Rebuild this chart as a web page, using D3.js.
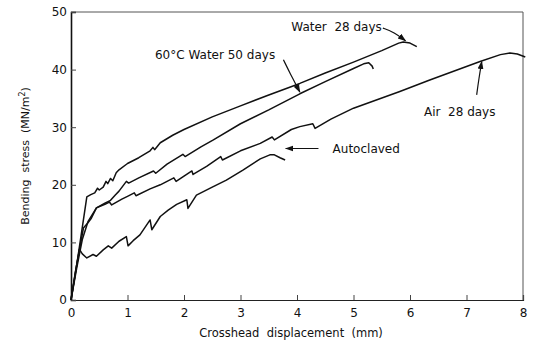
<!DOCTYPE html>
<html lang="en">
<head>
<meta charset="UTF-8">
<title>Bending stress vs crosshead displacement</title>
<script src="https://d3js.org/d3.v7.min.js"></script>
<style>
  body { margin: 0; background: #fff; }
  text { font-family: "DejaVu Sans", sans-serif; fill: #111; white-space: pre; }
</style>
</head>
<body>
<div id="chart"></div>
<script>
  // data: [displacement mm, stress MN/m2]
  const water28 = [[0,0],[0.1,6],[0.28,17.9],[0.35,18.3],[0.42,18.6],[0.47,19.4],[0.5,19.1],[0.57,19.6],[0.62,20.6],[0.65,20.2],[0.7,21.1],[0.74,20.7],[0.8,22.1],[0.85,22.6],[1.0,23.7],[1.2,24.7],[1.4,25.9],[1.45,26.5],[1.48,26.1],[1.58,27.3],[1.8,28.6],[2.0,29.6],[2.5,31.8],[3.0,33.7],[3.5,35.6],[4.05,37.6],[4.5,39.4],[5.0,41.3],[5.5,43.3],[5.8,44.6],[5.88,44.8],[6.0,44.6],[6.12,44.0]];
  const water60 = [[0,0],[0.1,6],[0.22,12.5],[0.3,13.4],[0.36,14.2],[0.45,16.0],[0.6,16.8],[0.7,17.3],[0.78,18.2],[0.85,18.9],[0.98,20.6],[1.02,20.3],[1.2,21.2],[1.46,22.4],[1.5,22.0],[1.7,23.6],[1.98,25.3],[2.02,24.9],[2.3,26.6],[2.52,27.8],[3.0,30.6],[3.5,33.0],[4.05,35.8],[4.5,37.9],[5.0,40.2],[5.18,41.0],[5.27,41.2],[5.33,40.6],[5.35,40.1]];
  const air28 = [[0,0],[0.1,5.5],[0.2,10.5],[0.3,13.6],[0.45,16.0],[0.6,16.6],[0.68,17.0],[0.72,16.5],[0.9,17.5],[1.0,18.0],[1.12,18.6],[1.15,18.1],[1.4,19.3],[1.58,20.0],[1.82,21.2],[1.86,20.6],[2.14,22.4],[2.16,21.8],[2.4,23.2],[2.65,24.9],[2.68,24.3],[3.0,25.9],[3.35,27.2],[3.56,28.3],[3.6,27.8],[3.9,29.6],[4.05,30.1],[4.28,30.6],[4.32,29.8],[4.6,31.4],[5.0,33.3],[5.82,36.2],[6.35,38.2],[7.24,41.4],[7.6,42.6],[7.77,42.9],[7.9,42.7],[8.04,42.2]];
  const autoclaved = [[0,0],[0.08,5],[0.15,8.8],[0.2,8.0],[0.28,7.3],[0.39,7.9],[0.45,7.6],[0.57,8.7],[0.66,9.4],[0.72,9.0],[0.85,10.2],[0.98,11.0],[1.01,9.4],[1.1,10.3],[1.22,11.3],[1.4,13.9],[1.43,12.2],[1.58,14.5],[1.72,15.6],[1.87,16.6],[2.05,17.4],[2.07,15.9],[2.22,18.2],[2.5,19.6],[2.75,20.8],[3.05,22.6],[3.35,24.5],[3.52,25.2],[3.6,25.2],[3.7,24.7],[3.79,24.3]];

  const xTicks = [0, 1, 2, 3, 4, 5, 6, 7, 8];
  const yTicks = [0, 10, 20, 30, 40, 50];

  // label text, anchor point and arrow (tail -> head) in data units
  const labels = [
    { text: "Water  28 days",      x: 4.70, y: 47.5, anchor: "middle", arrow: [[5.52, 47.2], [5.72, 46.5], [5.92, 45.0]] },
    { text: "60°C Water 50 days",   x: 2.55, y: 42.5, anchor: "middle", arrow: [[3.76, 41.7], [3.88, 39.3], [4.05, 36.1]] },
    { text: "Air  28 days",         x: 6.88, y: 32.7, anchor: "middle", arrow: [[7.18, 35.6], [7.22, 38.5], [7.27, 41.4]] },
    { text: "Autoclaved",           x: 4.63, y: 26.3, anchor: "start",  arrow: [[4.38, 26.3], [4.0, 26.3], [3.8, 26.3]] }
  ];

  const width = 533, height = 341;
  const margin = { top: 12, right: 10, bottom: 41, left: 71 };

  const svg = d3.select("#chart").append("svg")
    .attr("width", width)
    .attr("height", height);

  const x = d3.scaleLinear().domain([0, 8]).range([margin.left, width - margin.right]);
  const y = d3.scaleLinear().domain([0, 50]).range([height - margin.bottom, margin.top]);

  svg.append("defs").append("marker")
    .attr("id", "head")
    .attr("viewBox", "0 0 10 10")
    .attr("refX", 9).attr("refY", 5)
    .attr("markerWidth", 7).attr("markerHeight", 7)
    .attr("orient", "auto")
    .append("path")
    .attr("d", "M0,1.5 L10,5 L0,8.5 Z")
    .attr("fill", "#111");

  // frame
  svg.append("line")
    .attr("x1", x(0)).attr("x2", x(8)).attr("y1", y(50)).attr("y2", y(50))
    .attr("stroke", "#555").attr("stroke-width", 1);
  svg.append("line")
    .attr("x1", x(8)).attr("x2", x(8)).attr("y1", y(50)).attr("y2", y(0))
    .attr("stroke", "#555").attr("stroke-width", 1);

  const xAxis = svg.append("g")
    .attr("transform", `translate(0,${y(0)})`)
    .call(d3.axisBottom(x).tickValues(xTicks).tickSize(-5).tickPadding(8).tickFormat(d3.format("d")));
  xAxis.select(".domain").attr("stroke", "#222").attr("stroke-width", 1.2);
  xAxis.selectAll(".tick line").attr("stroke", "#444");
  xAxis.selectAll("text").style("font-size", "12px").attr("fill", "#111");

  const yAxis = svg.append("g")
    .attr("transform", `translate(${x(0)},0)`)
    .call(d3.axisLeft(y).tickValues(yTicks).tickSize(-5).tickPadding(4).tickFormat(d3.format("d")));
  yAxis.select(".domain").attr("stroke", "#111").attr("stroke-width", 1.6);
  yAxis.selectAll(".tick line").attr("stroke", "#444");
  yAxis.selectAll("text").style("font-size", "12px").attr("fill", "#111");

  const line = d3.line().x(d => x(d[0])).y(d => y(d[1]));

  [water28, water60, air28, autoclaved].forEach(series => {
    svg.append("path")
      .datum(series)
      .attr("d", line)
      .attr("fill", "none")
      .attr("stroke", "#111")
      .attr("stroke-width", 1.5)
      .attr("stroke-linejoin", "round");
  });

  const curve = d3.line().x(d => x(d[0])).y(d => y(d[1])).curve(d3.curveBasis);

  labels.forEach(l => {
    svg.append("text")
      .attr("x", x(l.x))
      .attr("y", y(l.y))
      .attr("dy", "0.35em")
      .attr("text-anchor", l.anchor)
      .style("font-size", "12px")
      .text(l.text);
    svg.append("path")
      .datum(l.arrow)
      .attr("d", curve)
      .attr("fill", "none")
      .attr("stroke", "#111")
      .attr("stroke-width", 1.2)
      .attr("marker-end", "url(#head)");
  });

  svg.append("text")
    .attr("transform", `translate(25,${(y(0) + y(50)) / 2}) rotate(-90)`)
    .attr("text-anchor", "middle")
    .attr("dy", "0.35em")
    .style("font-size", "11px")
    .html("Bending  stress  (MN/m<tspan dy='-4' font-size='8px'>2</tspan><tspan dy='4'>)</tspan>");

  svg.append("text")
    .attr("x", (x(0) + x(8)) / 2 - 6)
    .attr("y", 337)
    .attr("text-anchor", "middle")
    .style("font-size", "11.5px")
    .text("Crosshead  displacement  (mm)");
</script>
</body>
</html>
